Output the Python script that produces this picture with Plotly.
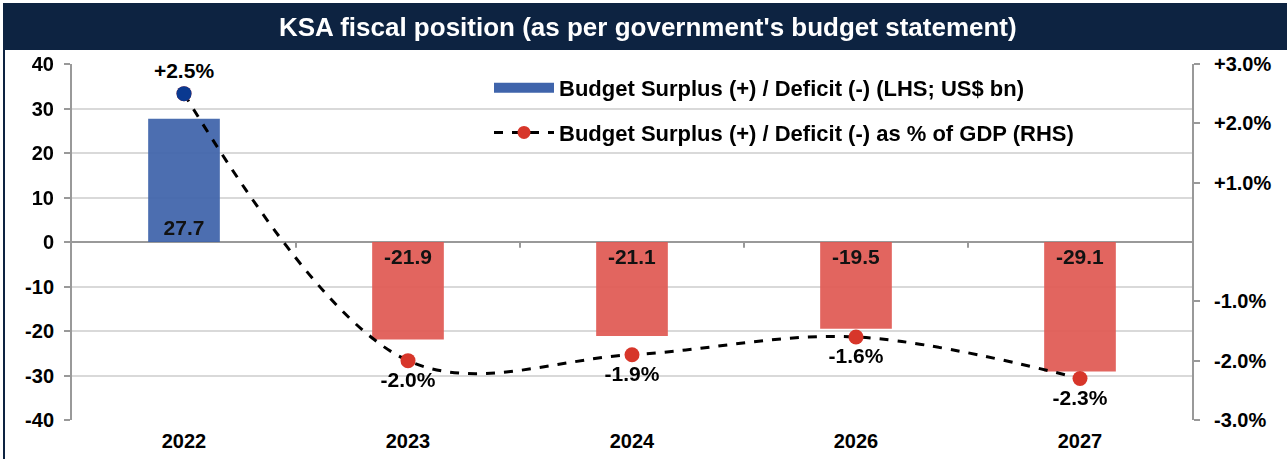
import plotly.graph_objects as go

years = ["2022", "2023", "2024", "2026", "2027"]
balance_bn = [27.7, -21.9, -21.1, -19.5, -29.1]
balance_pct = [2.5, -2.0, -1.9, -1.6, -2.3]
left_ticks = [-40, -30, -20, -10, 0, 10, 20, 30, 40]
left_labels = ["-40", "-30", "-20", "-10", "0", "10", "20", "30", "40"]
right_ticks = [-3, -2, -1, 1, 2, 3]
right_labels = ["-3.0%", "-2.0%", "-1.0%", "+1.0%", "+2.0%", "+3.0%"]

title = "KSA fiscal position (as per government's budget statement)"
bar_name = "Budget Surplus (+) / Deficit (-) (LHS; US$ bn)"
line_name = "Budget Surplus (+) / Deficit (-) as % of GDP (RHS)"

FONT = "Liberation Sans, Arial, sans-serif"
NAVY = "#0d2341"
BLUE = "#3f64ab"
RED = "#e05a53"
DOT_RED = "#d7362a"
DOT_BLUE = "#0a3990"

bar_colors = [BLUE if v >= 0 else RED for v in balance_bn]
pct_text = [("+" if v > 0 else "") + f"{v:.1f}%" for v in balance_pct]
pct_pos = ["top center" if v >= 0 else "bottom center" for v in balance_pct]
pos_years = [y for y, v in zip(years, balance_pct) if v >= 0]
pos_vals = [v for v in balance_pct if v >= 0]

TXT = dict(family=FONT, size=21, color="black", weight="bold")
TICK = dict(family=FONT, size=20, color="black", weight="bold")

fig = go.Figure()
fig.add_trace(go.Bar(
    x=years, y=balance_bn, name=bar_name,
    marker=dict(color=bar_colors, line=dict(width=0)), opacity=0.93,
    width=0.32,
    text=[f"{v:.1f}" for v in balance_bn], textposition="inside",
    insidetextanchor="start", textangle=0, constraintext="none",
    textfont=TXT, showlegend=False,
))
fig.add_trace(go.Scatter(
    x=years, y=balance_pct, name=line_name, yaxis="y2",
    mode="lines+markers+text",
    line=dict(color="black", width=3, dash="dash", shape="spline", smoothing=1.0),
    marker=dict(color=DOT_RED, size=15),
    text=pct_text, textposition=pct_pos, textfont=TXT,
    showlegend=False,
))
fig.add_trace(go.Scatter(
    x=pos_years, y=pos_vals, yaxis="y2", mode="markers",
    marker=dict(color=DOT_BLUE, size=15), showlegend=False, hoverinfo="skip",
))
# legend entries
fig.add_trace(go.Scatter(
    x=[None], y=[None], name=bar_name, mode="lines",
    line=dict(color=BLUE, width=13), legendgroup="a",
))
fig.add_trace(go.Scatter(
    x=[None], y=[None], name=line_name, mode="lines+markers", yaxis="y2",
    line=dict(color="black", width=3, dash="dash"),
    marker=dict(color=DOT_RED, size=13), legendgroup="b",
))

shapes = []
shapes.append(dict(type="rect", xref="paper", yref="paper",
                   x0=(3 - 72) / 1120, x1=(1290 - 72) / 1120,
                   y0=(420 - 50) / 356, y1=(420 - 3) / 356,
                   fillcolor=NAVY, line=dict(width=0), layer="above"))
shapes.append(dict(type="line", xref="paper", yref="paper",
                   x0=(4 - 72) / 1120, x1=(4 - 72) / 1120,
                   y0=(420 - 50) / 356, y1=(420 - 462) / 356,
                   line=dict(color=NAVY, width=2)))
for i in range(len(years) - 1):
    shapes.append(dict(type="line", xref="x", yref="y",
                       x0=i + 0.5, x1=i + 0.5, y0=0, y1=-1.3,
                       line=dict(color="#999999", width=2)))

fig.update_layout(
    width=1287, height=459,
    margin=dict(l=72, r=95, t=64, b=39, autoexpand=False),
    paper_bgcolor="white", plot_bgcolor="white",
    font=dict(family=FONT, size=18, color="black"),
    showlegend=True,
    legend=dict(x=(489 - 72) / 1120, y=(420 - 67) / 356, xanchor="left", yanchor="top",
                bgcolor="rgba(0,0,0,0)", tracegroupgap=13,
                font=dict(family=FONT, size=22, color="black", weight="bold"),
                itemwidth=60),
    bargap=0.68,
    xaxis=dict(type="category", showgrid=False, showline=False, ticks="",
               automargin=False, tickfont=TICK, ticklabelstandoff=7),
    yaxis=dict(range=[-40, 40], tickvals=left_ticks, ticktext=left_labels,
               showgrid=True, automargin=False,
               gridcolor="#d9d9d9", gridwidth=1.5,
               zeroline=True, zerolinecolor="#999999", zerolinewidth=2,
               showline=True, linecolor="#999999", linewidth=2,
               ticks="outside", ticklen=6, tickcolor="#999999", tickwidth=2,
               ticklabelstandoff=6, tickfont=TICK),
    yaxis2=dict(range=[-3, 3], overlaying="y", side="right", showgrid=False,
                zeroline=False, tickvals=right_ticks, ticktext=right_labels,
                automargin=False,
                showline=True, linecolor="#999999", linewidth=2,
                ticks="outside", ticklen=6, tickcolor="#999999", tickwidth=2,
                ticklabelstandoff=10, tickfont=TICK),
    shapes=shapes,
    annotations=[dict(text=title, xref="paper", yref="paper",
                      x=(648 - 72) / 1120, y=(420 - 27) / 356,
                      xanchor="center", yanchor="middle", showarrow=False,
                      font=dict(family=FONT, size=26, color="white", weight="bold"))],
)

fig.write_html("out.html", config={"displayModeBar": False},
               post_script="document.body.style.margin='0';")
